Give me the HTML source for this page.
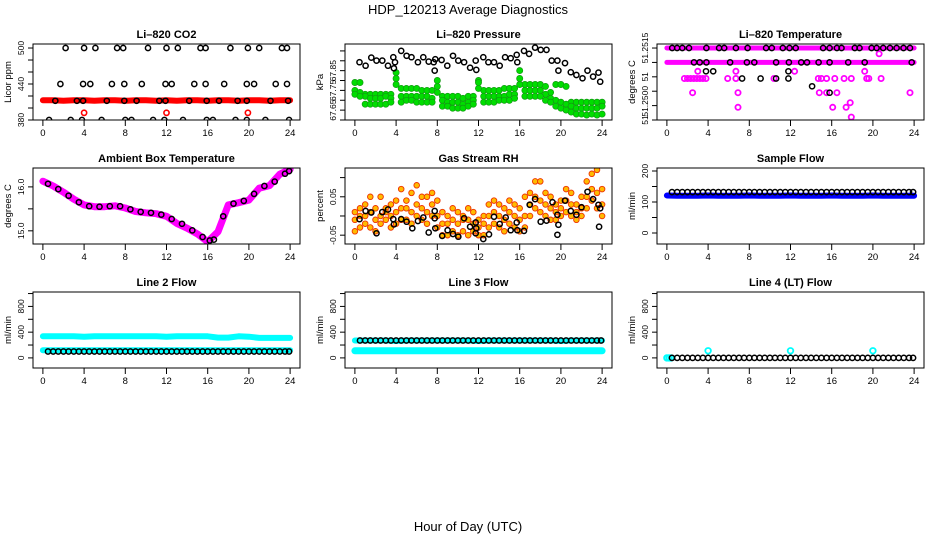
<!DOCTYPE html>
<html><head><meta charset="utf-8"><title>HDP_120213 Average Diagnostics</title>
<style>
html,body{margin:0;padding:0;background:#fff;}
svg{display:block;font-family:"Liberation Sans",sans-serif;}
</style></head>
<body>
<svg id="chart" width="936" height="540" viewBox="0 0 936 540" xmlns="http://www.w3.org/2000/svg">
<text x="468" y="14" font-size="13" text-anchor="middle">HDP_120213  Average Diagnostics</text>
<text x="468" y="531" font-size="13" text-anchor="middle">Hour of Day (UTC)</text>
</svg>
<script>
// ---------- data ----------
const xTicks = [0,4,8,12,16,20,24];
const halfHours = [0,0.5,1,1.5,2,2.5,3,3.5,4,4.5,5,5.5,6,6.5,7,7.5,8,8.5,9,9.5,10,10.5,11,11.5,12,12.5,13,13.5,14,14.5,15,15.5,16,16.5,17,17.5,18,18.5,19,19.5,20,20.5,21,21.5,22,22.5,23,23.5,24];
const hours = [0,1,2,3,4,5,6,7,8,9,10,11,12,13,14,15,16,17,18,19,20,21,22,23,24];
const blackTimes = [0.5,1,1.5,2,2.5,3,3.5,4,4.5,5,5.5,6,6.5,7,7.5,8,8.5,9,9.5,10,10.5,11,11.5,12,12.5,13,13.5,14,14.5,15,15.5,16,16.5,17,17.5,18,18.5,19,19.5,20,20.5,21,21.5,22,22.5,23,23.5,23.9];

// CO2
const co2Band = [413,413,412,413,413,412,413,413,412,413,413,412,413,412,413,413,412,413,413,412,413,413,412,413,413];
const co2T500 = [2.2,4.0,5.1,7.2,7.8,10.2,12.0,13.1,15.3,15.8,18.2,19.9,21.0,23.2,23.7];
const co2T440 = [1.7,3.9,4.6,6.7,7.9,9.6,11.9,12.5,14.7,15.8,17.6,19.8,20.5,22.6,23.7];
const co2T412 = [1.2,3.3,3.9,6.2,7.9,9.1,11.3,11.9,14.2,15.9,17.1,18.9,19.8,22.1,23.8];
const co2T380 = [0.6,2.7,3.8,5.7,8.0,8.6,10.7,11.8,13.6,15.9,16.5,18.7,19.8,21.6,23.9];
const co2RedT = [4.0,12.0,19.9];
const co2RedV = [392,392,392];

// Pressure
const presBlackT = [0.45,1.04,1.59,2.1,2.66,3.21,3.73,3.89,3.79,4.5,5.02,5.5,6.12,6.64,7.17,7.65,7.81,7.75,8.42,8.97,9.52,10.04,10.6,11.18,11.73,11.79,12.47,12.96,13.5,14.06,14.58,15.13,15.71,15.77,16.42,16.91,17.49,18.04,18.6,19.11,19.66,19.76,20.4,20.96,21.5,22.1,22.58,23.13,23.65,23.81];
const presBlackV = [67.893,67.875,67.916,67.901,67.901,67.875,67.918,67.893,67.862,67.950,67.925,67.918,67.893,67.918,67.896,67.893,67.908,67.850,67.904,67.875,67.925,67.901,67.893,67.865,67.901,67.854,67.918,67.893,67.893,67.875,67.918,67.913,67.930,67.893,67.950,67.935,67.967,67.955,67.955,67.901,67.901,67.850,67.888,67.842,67.828,67.811,67.850,67.820,67.840,67.794];
const presGreenA = [67.79,67.79,67.73,67.73,67.73,67.73,67.73,67.73,67.84,67.76,67.76,67.76,67.76,67.75,67.75,67.75,67.80,67.72,67.72,67.72,67.72,67.71,67.72,67.72,67.80,67.75,67.75,67.75,67.75,67.76,67.76,67.76,67.85,67.78,67.78,67.78,67.78,67.77,67.74,67.78,67.78,67.77,67.69,67.69,67.69,67.69,67.69,67.69,67.69];
const presGreenB = [67.75,67.74,67.72,67.71,67.71,67.71,67.72,67.71,67.81,67.72,67.72,67.72,67.72,67.72,67.72,67.71,67.77,67.70,67.69,67.69,67.69,67.68,67.69,67.70,67.79,67.72,67.72,67.72,67.72,67.72,67.73,67.73,67.81,67.75,67.75,67.75,67.75,67.73,67.71,67.70,67.69,67.68,67.67,67.66,67.66,67.66,67.66,67.66,67.67];
const presGreenC = [67.73,67.72,67.68,67.68,67.68,67.68,67.68,67.69,67.78,67.69,67.70,67.70,67.69,67.69,67.69,67.69,67.74,67.67,67.67,67.66,67.66,67.66,67.67,67.68,67.76,67.69,67.69,67.69,67.70,67.70,67.70,67.71,67.78,67.72,67.72,67.72,67.72,67.70,67.69,67.67,67.66,67.65,67.64,67.63,67.63,67.625,67.63,67.625,67.63];

// Li-820 temperature
const tempBandTop = [51.2515,51.2515,51.2515,51.2515,51.2515,51.2515,51.2515,51.2515,51.2515,51.2515,51.2515,51.2515,51.2515,51.2515,51.2515,51.2515,51.2515,51.2515,51.2515,51.2515,51.2515,51.2515,51.2515,51.2515,51.2515];
const tempBandMid = [51.2510,51.2510,51.2510,51.2510,51.2510,51.2510,51.2510,51.2510,51.2510,51.2510,51.2510,51.2510,51.2510,51.2510,51.2510,51.2510,51.2510,51.2510,51.2510,51.2510,51.2510,51.2510,51.2510,51.2510,51.2510];
const tempMagT = [3.0,6.7,12.4,19.2,1.7,2.0,2.3,2.6,2.9,3.2,3.5,3.8,5.9,6.7,10.4,14.7,15.0,15.5,16.3,17.2,17.9,19.4,19.6,20.8,2.5,6.9,14.8,15.5,16.5,23.6,17.8,6.9,16.1,17.4,17.9,20.6];
const tempMagV = [51.25069,51.25069,51.25069,51.25069,51.25044,51.25044,51.25044,51.25044,51.25044,51.25044,51.25044,51.25044,51.25044,51.25044,51.25044,51.25044,51.25044,51.25044,51.25044,51.25044,51.25044,51.25044,51.25044,51.25044,51.24995,51.24995,51.24995,51.24995,51.24995,51.24995,51.2496,51.24944,51.24944,51.24944,51.2491,51.2513];
const tempBlackT = [0.52,0.99,1.5,2.15,3.84,5.07,5.56,6.7,7.84,9.63,10.18,11.25,11.9,12.5,15.16,15.8,16.5,16.95,18.24,18.7,19.87,20.36,21,21.66,22.3,22.97,23.6,2.63,3.19,3.84,6.14,7.77,8.49,10.6,11.84,13.04,13.6,14.73,15.8,17.6,19.2,23.77,3.8,4.5,11.8,7.3,9.1,10.6,11.8,14.1,15.8];
const tempBlackV = [51.2515,51.2515,51.2515,51.2515,51.2515,51.2515,51.2515,51.2515,51.2515,51.2515,51.2515,51.2515,51.2515,51.2515,51.2515,51.2515,51.2515,51.2515,51.2515,51.2515,51.2515,51.2515,51.2515,51.2515,51.2515,51.2515,51.2515,51.2510,51.2510,51.2510,51.2510,51.2510,51.2510,51.2510,51.2510,51.2510,51.2510,51.2510,51.2510,51.2510,51.2510,51.2510,51.25069,51.25069,51.25069,51.25044,51.25044,51.25044,51.25044,51.25017,51.24995];

// Ambient box temperature
const ambMag = [16.13,16.02,15.88,15.72,15.59,15.55,15.55,15.57,15.52,15.44,15.41,15.39,15.33,15.17,15.06,14.93,14.75,14.98,15.59,15.64,15.70,15.97,16.03,16.29,16.40];
const ambBlackT = [0.5,1.5,2.5,3.5,4.5,5.5,6.5,7.5,8.5,9.5,10.5,11.5,12.5,13.5,14.5,15.5,16.2,16.6,17.5,18.5,19.5,20.5,21.5,22.5,23.5,23.9];
const ambBlackV = [16.07,15.95,15.80,15.65,15.56,15.55,15.56,15.56,15.49,15.43,15.41,15.37,15.27,15.16,15.01,14.86,14.78,14.80,15.33,15.62,15.68,15.84,16.02,16.12,16.30,16.36];

// Gas stream RH
const rhUpper = [0.01,0.02,0.03,0.05,0.02,0.05,0.02,0.03,0.04,0.07,0.04,0.06,0.08,0.05,0.05,0.06,0.04,0.01,0.0,0.02,0.01,0.0,0.02,0.01,-0.01,0.0,0.03,0.04,0.03,0.02,0.04,0.03,0.02,0.05,0.06,0.09,0.09,0.06,0.05,0.03,0.04,0.07,0.06,0.03,0.05,0.09,0.11,0.12,0.07];
const rhMid = [-0.01,0.0,0.0,0.01,-0.01,0.0,0.01,0.0,0.01,0.02,0.02,0.01,0.03,0.02,0.01,0.03,0.0,-0.02,-0.02,-0.01,-0.02,-0.01,-0.01,-0.02,-0.03,-0.02,0.0,0.01,0.0,-0.01,0.01,0.0,-0.01,0.0,0.03,0.05,0.04,0.03,0.02,0.01,0.02,0.04,0.03,0.01,0.02,0.05,0.07,0.06,0.03];
const rhLower = [-0.04,-0.03,-0.02,-0.03,-0.04,-0.02,-0.01,-0.03,-0.02,-0.01,-0.01,-0.02,0.0,-0.01,-0.02,0.0,-0.03,-0.05,-0.05,-0.04,-0.05,-0.04,-0.05,-0.04,-0.05,-0.05,-0.03,-0.02,-0.03,-0.04,-0.02,-0.03,-0.04,-0.03,0.0,0.02,0.01,0.0,-0.01,-0.01,0.0,0.01,0.0,-0.01,0.0,0.02,0.04,0.02,0.0];
const rhBlackT = [0.45,1.04,1.59,2.1,2.66,3.21,3.73,3.79,4.5,5.02,5.57,6.12,6.64,7.17,7.75,7.75,7.81,8.48,9.0,9.52,10.04,10.6,11.18,11.73,11.73,11.79,12.47,13.02,13.5,14.06,14.64,15.13,15.71,15.77,16.42,16.97,17.49,18.04,18.6,19.18,19.66,19.76,19.66,20.4,20.96,21.5,22.0,22.58,23.13,23.65,23.81,23.71];
const rhBlackV = [-0.008,0.013,0.009,-0.045,0.010,0.017,-0.008,-0.022,-0.008,-0.015,-0.032,-0.013,-0.004,-0.043,0.013,-0.006,-0.032,-0.052,-0.037,-0.047,-0.054,-0.006,-0.028,-0.017,-0.045,-0.032,-0.060,-0.048,-0.002,-0.021,-0.004,-0.037,-0.017,-0.037,-0.039,0.029,0.044,-0.015,-0.012,0.036,0.003,-0.023,-0.049,0.040,0.013,0.003,0.023,0.063,0.044,0.029,0.020,-0.028];

// Sample flow
const sfBlue = [121,120,120,120,121,120,120,120,121,120,120,120,121,120,120,120,121,120,120,120,121,120,120,120,120];
const sfBlack = [132,132,132,132,132,132,132,132,132,132,132,132,132,132,132,132,132,132,132,132,132,132,132,132,132,132,132,132,132,132,132,132,132,132,132,132,132,132,132,132,132,132,132,132,132,132,132,132];

// Line flows
const l2CyanHigh = [335,335,335,335,330,335,335,335,335,335,335,335,330,335,335,335,335,315,315,335,330,310,310,310,310];
const l2CyanLow = [120,120,120,120,120,120,120,120,120,120,120,120,120,120,120,120,120,120,120,120,120,120,120,120,120];
const l2Black = [100,100,100,100,100,100,100,100,100,100,100,100,100,100,100,100,100,100,100,100,100,100,100,100,100,100,100,100,100,100,100,100,100,100,100,100,100,100,100,100,100,100,100,100,100,100,100,100];
const l3CyanHigh = [270,270,270,270,262,270,270,270,270,270,270,270,262,270,270,270,270,270,270,270,262,270,270,270,270];
const l3CyanLow = [110,110,110,110,110,110,110,110,110,110,110,110,110,110,110,110,110,110,110,110,110,110,110,110,110];
const l3Black = [270,270,270,270,270,270,270,270,270,270,270,270,270,270,270,270,270,270,270,270,270,270,270,270,270,270,270,270,270,270,270,270,270,270,270,270,270,270,270,270,270,270,270,270,270,270,270,270];
const l4Black = [0,0,0,0,0,0,0,0,0,0,0,0,0,0,0,0,0,0,0,0,0,0,0,0,0,0,0,0,0,0,0,0,0,0,0,0,0,0,0,0,0,0,0,0,0,0,0,0];
const l4CyanT = [0,0.2,0.4,4.0,12.0,20.0];
const l4CyanV = [0,0,0,110,110,110];

// tick values
const co2Ticks = [380,400,420,440,460,480,500];
const co2Labels = [380,440,500];
const presTicks = [67.60,67.65,67.70,67.75,67.80,67.85,67.90,67.95];
const presLabels = [67.65,67.75,67.85];
const tempTicks = [51.2490,51.2495,51.2500,51.2505,51.2510,51.2515];
const tempLabelVals = [51.2515,51.2505,51.24965,51.2490];
const tempLabelText = ["51.2515","51","51.2500","51"];
const ambTicks = [15.0,15.5,16.0];
const ambLabels = ["15.0","16.0"];
const ambLabelVals = [15.0,16.0];
const rhTicks = [-0.05,0,0.05,0.10];
const rhLabelVals = [-0.05,0.05];
const rhLabelText = ["-0.05","0.05"];
const sfTicks = [0,50,100,150,200];
const sfLabels = [0,100,200];
const flowTicks = [0,200,400,600,800,1000];
const flowLabels = [0,400,800];

// ---------- drawing ----------
const NS = "http://www.w3.org/2000/svg";
const svg = document.getElementById('chart');
function mk(tag, attrs, parent){
  const e = document.createElementNS(NS, tag);
  for (const k in attrs) e.setAttribute(k, attrs[k]);
  (parent||svg).appendChild(e);
  return e;
}
const colX = [33,345,657], rowY = [44,168,292], W = 267, H = 76;
const X0 = -0.96, X1 = 24.96;

function makePanel(id, col, row, y0, y1, title, ylab, ticks, labVals, labText){
  const p = {x:colX[col], y:rowY[row], y0:y0, y1:y1};
  p.sx = h => p.x + (h - X0) / (X1 - X0) * W;
  p.sy = v => p.y + H - (v - y0) / (y1 - y0) * H;
  const g = mk('g', {});
  
  
  p.g = g;
  const cp = mk('clipPath', {id: 'clip-' + id}, g);
  mk('rect', {x:p.x, y:p.y, width:W, height:H}, cp);
  p.plot = mk('g', {'clip-path': 'url(#clip-' + id + ')'}, g);
  
  
  const t = mk('text', {x:p.x + W/2, y:p.y - 6, 'font-size':11, 'font-weight':'bold', 'text-anchor':'middle'}, g);
  t.textContent = title;
  
  
  const xa = mk('g', {stroke:'#000', 'stroke-width':1}, g);
  
  
  mk('line', {x1:p.sx(xTicks[0]), x2:p.sx(xTicks[xTicks.length-1]), y1:p.y+H, y2:p.y+H}, xa);
  xTicks.forEach(v => {
    mk('line', {x1:p.sx(v), x2:p.sx(v), y1:p.y+H, y2:p.y+H+6}, xa);
    const lt = mk('text', {x:p.sx(v), y:p.y+H+16, 'font-size':9.5, 'text-anchor':'middle', stroke:'none'}, xa);
    lt.textContent = v;
    
    
  });
  const ya = mk('g', {stroke:'#000', 'stroke-width':1}, g);
  
  
  mk('line', {x1:p.x, x2:p.x, y1:p.sy(ticks[0]), y2:p.sy(ticks[ticks.length-1])}, ya);
  ticks.forEach(v => {
    mk('line', {x1:p.x-5, x2:p.x, y1:p.sy(v), y2:p.sy(v)}, ya);
  });
  labVals.forEach((v,i) => {
    const yy = p.sy(v), xx = p.x - 9;
    const lt = mk('text', {x:xx, y:yy, 'font-size':8.5, 'text-anchor':'middle', stroke:'none', transform:'rotate(-90 '+xx+' '+yy+')'}, ya);
    lt.textContent = labText[i];
    
    
  });
  const yl = mk('text', {x:p.x-22, y:p.y+H/2, 'font-size':9.5, 'text-anchor':'middle', transform:'rotate(-90 '+(p.x-22)+' '+(p.y+H/2)+')'}, g);
  yl.textContent = ylab;
  
  
  p.g2 = g;
  return p;
}
function finishPanel(p){
  const b = mk('rect', {x:p.x, y:p.y, width:W, height:H, fill:'none', stroke:'#000', 'stroke-width':1}, p.g2);
  
  
}
function line(p, xs, ys, color, w, name){
  const pts = xs.map((x,i) => p.sx(x).toFixed(1) + ',' + p.sy(ys[i]).toFixed(1)).join(' ');
  const e = mk('polyline', {points:pts, fill:'none', stroke:color, 'stroke-width':w, 'stroke-linejoin':'round', 'stroke-linecap':'round'}, p.plot);
  
  
}
function pts(p, xs, ys, style, name){
  const g = mk('g', {}, p.plot);
  
  
  xs.forEach((x,i) => {
    const c = mk('circle', {cx:p.sx(x).toFixed(1), cy:p.sy(ys[i]).toFixed(1), r:style.r, fill:style.fill, stroke:style.stroke, 'stroke-width':style.sw}, g);
    
    
  });
}
const blackRing = {r:2.6, fill:'none', stroke:'#000', sw:1.5};
function constArr(n, v){ const a=[]; for(let i=0;i<n;i++) a.push(v); return a; }

let p = makePanel('co2', 0, 0, 380, 506.7, 'Li\u2013820 CO2', 'Licor ppm', co2Ticks, co2Labels, co2Labels.map(String));
line(p, hours, co2Band, '#ff0000', 6, 'co2-red-band');
pts(p, co2RedT, co2RedV, {r:2.6, fill:'none', stroke:'#ff0000', sw:1.6}, 'co2-red-points');
pts(p, co2T500, constArr(co2T500.length, 500), blackRing, 'co2-black-500');
pts(p, co2T440, constArr(co2T440.length, 440), blackRing, 'co2-black-440');
pts(p, co2T412, constArr(co2T412.length, 412), blackRing, 'co2-black-412');
pts(p, co2T380, constArr(co2T380.length, 380), blackRing, 'co2-black-380');
finishPanel(p);

p = makePanel('pressure', 1, 0, 67.60, 67.985, 'Li\u2013820 Pressure', 'kPa', presTicks, presLabels, presLabels.map(v => v.toFixed(2)));
const greenStyle = {r:3.1, fill:'#00dd00', stroke:'#119911', sw:0.7};
pts(p, halfHours, presGreenA, greenStyle, 'pressure-green-upper');
pts(p, halfHours, presGreenB, greenStyle, 'pressure-green-mid');
pts(p, halfHours, presGreenC, greenStyle, 'pressure-green-lower');
pts(p, presBlackT, presBlackV, blackRing, 'pressure-black-points');
finishPanel(p);

p = makePanel('li820-temp', 2, 0, 51.2490, 51.25164, 'Li\u2013820 Temperature', 'degrees C', tempTicks, tempLabelVals, tempLabelText);
line(p, hours, tempBandTop, '#ff00ff', 5, 'temp-magenta-top-band');
line(p, hours, tempBandMid, '#ff00ff', 5, 'temp-magenta-mid-band');
pts(p, tempMagT, tempMagV, {r:2.6, fill:'none', stroke:'#ff00ff', sw:1.8}, 'temp-magenta-points');
pts(p, tempBlackT, tempBlackV, blackRing, 'temp-black-points');
finishPanel(p);

p = makePanel('ambient-temp', 0, 1, 14.7, 16.43, 'Ambient Box Temperature', 'degrees C', ambTicks, ambLabelVals, ambLabels);
line(p, hours, ambMag, '#ff00ff', 7, 'ambient-magenta-line');
pts(p, ambBlackT, ambBlackV, blackRing, 'ambient-black-points');
finishPanel(p);

p = makePanel('gas-rh', 1, 1, -0.073, 0.125, 'Gas Stream RH', 'percent', rhTicks, rhLabelVals, rhLabelText);
const orangeStyle = {r:2.8, fill:'#ffbb00', stroke:'#ee3300', sw:0.9};
pts(p, halfHours, rhUpper, orangeStyle, 'rh-orange-upper');
pts(p, halfHours, rhMid, orangeStyle, 'rh-orange-mid');
pts(p, halfHours, rhLower, orangeStyle, 'rh-orange-lower');
pts(p, rhBlackT, rhBlackV, blackRing, 'rh-black-points');
finishPanel(p);

p = makePanel('sample-flow', 2, 1, -35.5, 209.7, 'Sample Flow', 'ml/min', sfTicks, sfLabels, sfLabels.map(String));
line(p, hours, sfBlue, '#0000ff', 6, 'sample-flow-blue-band');
pts(p, blackTimes, sfBlack, blackRing, 'sample-flow-black-points');
finishPanel(p);

p = makePanel('line2-flow', 0, 2, -157, 1024, 'Line 2 Flow', 'ml/min', flowTicks, flowLabels, flowLabels.map(String));
line(p, hours, l2CyanHigh, '#00ffff', 6, 'line2-cyan-high');
line(p, hours, l2CyanLow, '#00ffff', 6, 'line2-cyan-low');
pts(p, blackTimes, l2Black, blackRing, 'line2-black-points');
finishPanel(p);

p = makePanel('line3-flow', 1, 2, -157, 1024, 'Line 3 Flow', 'ml/min', flowTicks, flowLabels, flowLabels.map(String));
line(p, hours, l3CyanHigh, '#00ffff', 6, 'line3-cyan-high');
line(p, hours, l3CyanLow, '#00ffff', 7, 'line3-cyan-low');
pts(p, blackTimes, l3Black, blackRing, 'line3-black-points');
finishPanel(p);

p = makePanel('line4-flow', 2, 2, -157, 1024, 'Line 4 (LT) Flow', 'ml/min', flowTicks, flowLabels, flowLabels.map(String));
pts(p, l4CyanT, l4CyanV, {r:2.8, fill:'none', stroke:'#00ffff', sw:1.8}, 'line4-cyan-points');
pts(p, blackTimes, l4Black, blackRing, 'line4-black-points');
finishPanel(p);
</script>
</body></html>
